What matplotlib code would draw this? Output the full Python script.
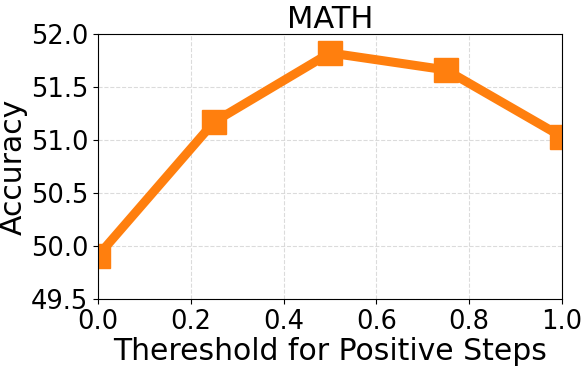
import matplotlib
matplotlib.use('Agg')
import matplotlib.pyplot as plt

# Data
thresholds = [0.0, 0.25, 0.5, 0.75, 1.0]
accuracy = [49.91, 51.17, 51.82, 51.66, 51.03]
x_ticks = [0.0, 0.2, 0.4, 0.6, 0.8, 1.0]
y_ticks = [49.5, 50.0, 50.5, 51.0, 51.5, 52.0]

fig, ax = plt.subplots(figsize=(5.81, 3.68), dpi=100)
fig.subplots_adjust(left=0.169, right=0.967, top=0.908, bottom=0.1875)

ax.plot(thresholds, accuracy, color='#ff7f0e', linewidth=6.5, marker='s', markersize=17)

ax.set_xlim(0, 1)
ax.set_ylim(49.5, 52.0)
ax.set_xticks(x_ticks)
ax.set_yticks(y_ticks)
ax.tick_params(axis='both', labelsize=18.5)
ax.grid(True, linestyle='--', color='lightgray', alpha=0.8)

ax.set_xlabel('Thereshold for Positive Steps', fontsize=21.5, labelpad=2)
ax.set_ylabel('Accuracy', fontsize=21.5, labelpad=2)
ax.set_title('MATH', fontsize=22, pad=4)

fig.savefig('out.png', dpi=100)
